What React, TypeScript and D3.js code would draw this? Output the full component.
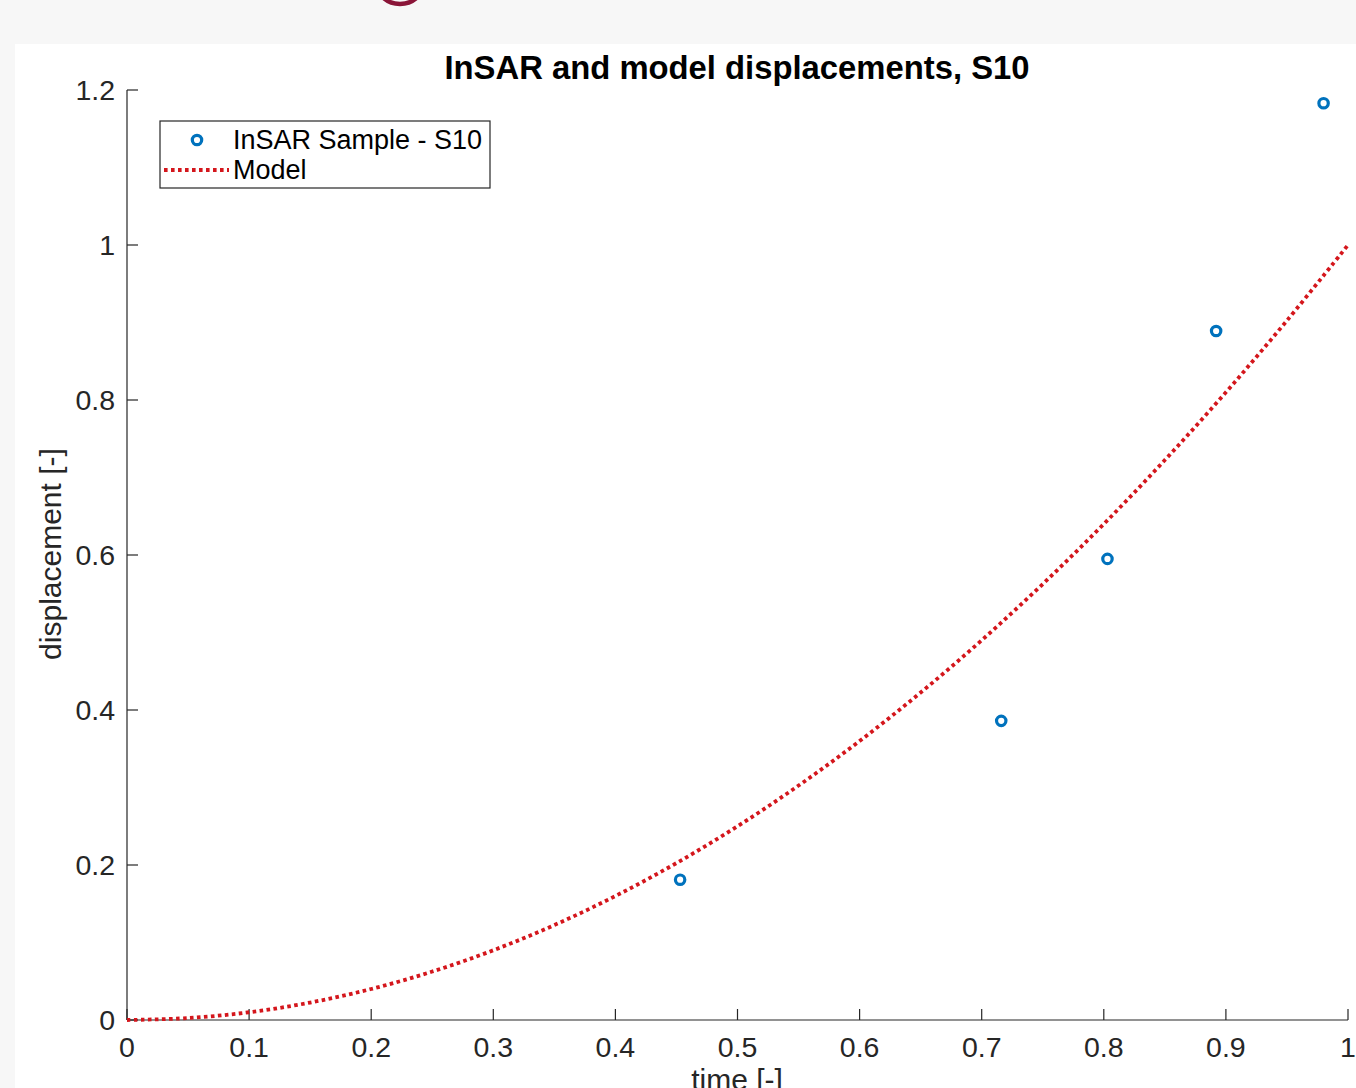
import React from "react";
import * as d3 from "d3";

const title = "InSAR and model displacements, S10";
const xLabel = "time [-]";
const yLabel = "displacement [-]";
const xTicks = [0, 0.1, 0.2, 0.3, 0.4, 0.5, 0.6, 0.7, 0.8, 0.9, 1];
const yTicks = [0, 0.2, 0.4, 0.6, 0.8, 1, 1.2];
const sampleTime = [0.453, 0.716, 0.803, 0.892, 0.98];
const sampleDisp = [0.181, 0.386, 0.595, 0.889, 1.183];
const modelTime = [0, 0.05, 0.1, 0.15, 0.2, 0.25, 0.3, 0.35, 0.4, 0.45, 0.5, 0.55, 0.6, 0.65, 0.7, 0.75, 0.8, 0.85, 0.9, 0.95, 1];
const modelDisp = [0, 0.0025, 0.01, 0.0225, 0.04, 0.0625, 0.09, 0.1225, 0.16, 0.2025, 0.25, 0.3025, 0.36, 0.4225, 0.49, 0.5625, 0.64, 0.7225, 0.81, 0.9025, 1.0];
const legendLabels = ["InSAR Sample - S10", "Model"];

const W = 1356;
const H = 1088;
const FONT = "'Liberation Sans', Arial, Helvetica, sans-serif";
const AX = "#262626";
const BLUE = "#0072BD";
const RED = "#d4161c";

export default function App() {
  const x = d3.scaleLinear().domain([0, 1]).range([127, 1348]);
  const y = d3.scaleLinear().domain([0, 1.2]).range([1020, 90]);
  const line = d3
    .line<number>()
    .x((_, i) => x(modelTime[i]))
    .y((d) => y(d))
    .curve(d3.curveCatmullRom);
  const fmt = (v: number) => (v === 0 || v === 1 ? String(v) : d3.format(".1f")(v));

  return (
    <div style={{ position: "fixed", left: 0, top: 0, width: W, height: H }}>
      <svg width={W} height={H} style={{ display: "block" }} fontFamily={FONT}>
        <rect x={0} y={0} width={W} height={H} fill="#f7f7f7" />
        <rect x={15} y={44} width={W - 15} height={H - 44} fill="#ffffff" />
        <ellipse cx={400} cy={-16} rx={23} ry={20} fill="none" stroke="#8a1538" strokeWidth={4.5} />

        {/* axes */}
        <line x1={x(0)} x2={x(1)} y1={y(0)} y2={y(0)} stroke={AX} strokeWidth={1.2} />
        <line x1={x(0)} x2={x(0)} y1={y(0)} y2={y(1.2)} stroke={AX} strokeWidth={1.2} />
        {xTicks.map((t) => (
          <g key={"x" + t}>
            <line x1={x(t)} x2={x(t)} y1={y(0)} y2={y(0) - 11} stroke={AX} strokeWidth={1.2} />
            <text x={x(t)} y={1057} textAnchor="middle" fontSize={28.5} fill={AX}>
              {fmt(t)}
            </text>
          </g>
        ))}
        {yTicks.map((t) => (
          <g key={"y" + t}>
            <line x1={x(0)} x2={x(0) + 11} y1={y(t)} y2={y(t)} stroke={AX} strokeWidth={1.2} />
            <text x={115} y={y(t) + 10} textAnchor="end" fontSize={28.5} fill={AX}>
              {fmt(t)}
            </text>
          </g>
        ))}

        {/* model */}
        <path
          d={line(modelDisp) || ""}
          fill="none"
          stroke={RED}
          strokeWidth={3.8}
          strokeDasharray="3.6 3.4"
        />

        {/* samples */}
        {sampleTime.map((t, i) => (
          <circle key={"s" + i} cx={x(t)} cy={y(sampleDisp[i])} r={4.7} fill="none" stroke={BLUE} strokeWidth={3.2} />
        ))}

        {/* title & labels */}
        <text x={737} y={79} textAnchor="middle" fontSize={32.8} fontWeight="bold" fill="#000">
          {title}
        </text>
        <text x={737} y={1090} textAnchor="middle" fontSize={30} fill={AX}>
          {xLabel}
        </text>
        <text
          transform={`translate(61, ${554}) rotate(-90)`}
          textAnchor="middle"
          fontSize={30}
          fill={AX}
        >
          {yLabel}
        </text>

        {/* legend */}
        <rect x={160} y={121} width={330} height={67} fill="#ffffff" stroke={AX} strokeWidth={1.2} />
        <circle cx={197} cy={140} r={4.7} fill="none" stroke={BLUE} strokeWidth={3.2} />
        <text x={233} y={149} fontSize={27} fill="#000">
          {legendLabels[0]}
        </text>
        <line x1={164} x2={229} y1={170} y2={170} stroke={RED} strokeWidth={3.8} strokeDasharray="3.6 3.4" />
        <text x={233} y={179} fontSize={27} fill="#000">
          {legendLabels[1]}
        </text>
      </svg>
    </div>
  );
}
